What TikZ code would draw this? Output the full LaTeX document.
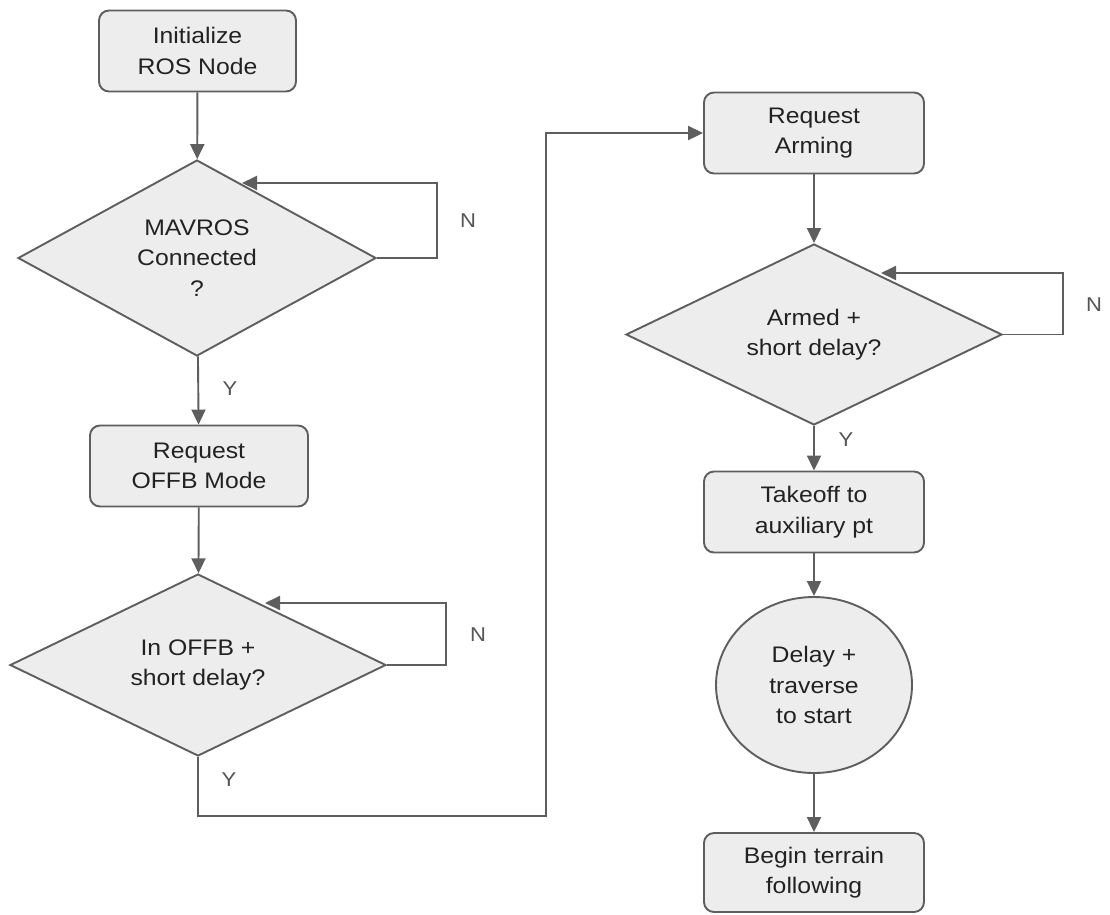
\documentclass[tikz,border=0pt]{standalone}
\usepackage{fontspec}
\setmainfont[FakeStretch=1.1]{Liberation Sans}
\usetikzlibrary{shapes.geometric,arrows.meta}
\definecolor{linegray}{HTML}{5E5E5E}
\definecolor{fillgray}{HTML}{EDEDED}
\definecolor{textgray}{HTML}{222222}
\definecolor{labelgray}{HTML}{555555}
\begin{document}
\begin{tikzpicture}[x=1pt,y=-1pt,
  base/.style={draw=linegray,fill=fillgray,line width=1.9pt,text=textgray,align=center,inner sep=0pt,
    font=\fontsize{22.5}{30.5}\selectfont},
  procbox/.style={base,rectangle,rounded corners=10pt,minimum width=#1,minimum height=81pt},
  decbox/.style={base,diamond,aspect=2},
  termcirc/.style={base,ellipse,minimum width=196pt,minimum height=176pt},
  conn/.style={draw=linegray,line width=1.9pt,-{Triangle[length=15pt,width=14pt]}},
  lbl/.style={text=labelgray,font=\fontsize{20}{24}\selectfont,inner sep=0pt}
]
\useasboundingbox (0,0) rectangle (1110,914);
\fill[white] (0,0) rectangle (1110,914);

\node[procbox=197pt] (init) at (197.5,51) {Initialize\\ROS Node};
\node[decbox,minimum width=358pt,minimum height=196pt] (d1) at (197,258) {MAVROS\\Connected\\?};
\node[procbox=218pt] (offb) at (199,466) {Request\\OFFB Mode};
\node[decbox,minimum width=376pt,minimum height=182pt] (d2) at (198,665) {In OFFB +\\short delay?};

\node[procbox=220pt] (arm) at (814,133) {Request\\Arming};
\node[decbox,minimum width=376pt,minimum height=181pt] (d3) at (814,334.5) {Armed +\\short delay?};
\node[procbox=220pt] (take) at (814,512) {Takeoff to\\auxiliary pt};
\node[termcirc] (trav) at (814,685) {Delay +\\traverse\\to start};
\node[procbox=220pt,minimum height=79pt] (begin) at (814,872.5) {Begin terrain\\following};

\coordinate (d1n) at (242,183);
\coordinate (d2n) at (265,603);
\coordinate (d3n) at (881,273);

\draw[conn] (init) -- (d1);
\draw[conn] (d1.east) -| (437,220) |- (d1n);
\draw[conn] (d1) -- (offb);
\draw[conn] (offb) -- (d2);
\draw[conn] (d2.east) -| (446,640) |- (d2n);
\draw[conn] (d2.south) |- (546,816) |- (arm.west);
\draw[conn] (arm) -- (d3);
\draw[conn] (d3.east) -| (1063,300) |- (d3n);
\draw[conn] (d3) -- (take);
\draw[conn] (take) -- (trav);
\draw[conn] (trav) -- (begin);

\node[lbl] (n1) at (468,221) {N};
\node[lbl] (n2) at (478,635) {N};
\node[lbl] (n3) at (1094,305) {N};
\node[lbl] (y1) at (230,389) {Y};
\node[lbl] (y2) at (229,780) {Y};
\node[lbl] (y3) at (846,440) {Y};
\end{tikzpicture}
\end{document}
